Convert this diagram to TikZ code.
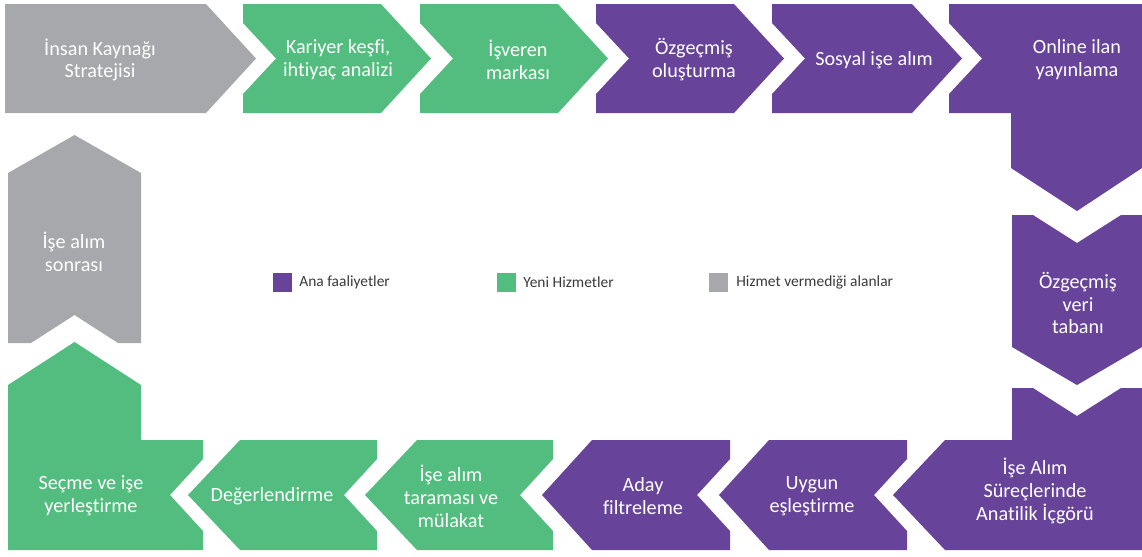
\documentclass[tikz,border=0pt]{standalone}
\usepackage{fontspec}
\setmainfont{Carlito}[Ligatures=NoCommon]
\definecolor{anamor}{RGB}{103,67,153}
\definecolor{yenisil}{RGB}{82,189,126}
\definecolor{hizgri}{RGB}{167,168,172}
\definecolor{yazigri}{RGB}{58,58,58}

\def\ust{4}
\def\alt{113}
\def\orta{58.5}

\begin{document}
\begin{tikzpicture}[x=0.02cm,y=-0.02cm]
				\tikzstyle{etiket}=[text=white,align=center,inner sep=0pt,font=\fontsize{11.5}{13}\selectfont]
				\tikzstyle{lejant}=[text=yazigri,anchor=west,inner sep=0pt,font=\fontsize{8.8}{10}\selectfont]
				\useasboundingbox (0,0) rectangle (1142,556);

			    % Top row
			    \fill[hizgri] (5,\ust) -- (206,\ust) -- (256,\orta) -- (206,\alt) -- (5,\alt) -- cycle;
			    \fill[yenisil] (243,\ust) -- (381,\ust) -- (431,\orta) -- (381,\alt) -- (243,\alt) -- (243,94) -- (276,\orta) -- (243,23) -- cycle;
			    \fill[yenisil] (420,\ust) -- (558,\ust) -- (608,\orta) -- (558,\alt) -- (420,\alt) -- (420,94) -- (453,\orta) -- (420,23) -- cycle;
			    \fill[anamor] (596,\ust) -- (734,\ust) -- (784,\orta) -- (734,\alt) -- (596,\alt) -- (596,94) -- (629,\orta) -- (596,23) -- cycle;
			    \fill[anamor] (772,\ust) -- (912,\ust) -- (962,\orta) -- (912,\alt) -- (772,\alt) -- (772,94) -- (805,\orta) -- (772,23) -- cycle;
			    \fill[anamor] (949,\ust) -- (1142,\ust) -- (1142,168) -- (1077,211) -- (1011,168) -- (1011,\alt) -- (949,\alt) -- (949,94) -- (982,\orta) -- (949,23) -- cycle;

			    % Right column
			    \fill[anamor] (1012,215) -- (1033,215) -- (1077,243) -- (1121,215) -- (1142,215) -- (1142,347) -- (1077,385) -- (1012,347) -- cycle;
			    \fill[anamor] (1012,388) -- (1033,388) -- (1077,416) -- (1121,388) -- (1142,388) -- (1142,550) -- (945,550) -- (893,495) -- (945,440) -- (1012,440) -- cycle;

			    % Bottom row
			    \fill[anamor] (769,440) -- (907,440) -- (907,459) -- (874,495) -- (907,531) -- (907,550) -- (769,550) -- (719,495) -- cycle;
			    \fill[anamor] (592,440) -- (730,440) -- (730,459) -- (697,495) -- (730,531) -- (730,550) -- (592,550) -- (542,495) -- cycle;
			    \fill[yenisil] (417,440) -- (553,440) -- (553,459) -- (520,495) -- (553,531) -- (553,550) -- (417,550) -- (365,495) -- cycle;
			    \fill[yenisil] (240,440) -- (377,440) -- (377,459) -- (344,495) -- (377,531) -- (377,550) -- (240,550) -- (188,495) -- cycle;
			    \fill[yenisil] (8,550) -- (8,385) -- (74.5,342) -- (141,385) -- (141,440) -- (203,440) -- (203,459) -- (170,495) -- (203,531) -- (203,550) -- cycle;

			    % Left column
			    \fill[hizgri] (8,173) -- (74.5,135) -- (141,173) -- (141,343) -- (118,343) -- (74.5,315) -- (31,343) -- (8,343) -- cycle;

			    % Labels
			    \node[etiket] (ik) at (100,60) {İnsan Kaynağı\\Stratejisi};
			    \node[etiket] (kariyer) at (338,60) {Kariyer keşfi,\\ihtiyaç analizi};
			    \node[etiket] (marka) at (518,60) {İşveren\\markası};
			    \node[etiket] (ozgecmis) at (694,60) {Özgeçmiş\\oluşturma};
			    \node[etiket] (sosyal) at (874,60) {Sosyal işe alım};
			    \node[etiket] (ilan) at (1077,60) {Online ilan\\yayınlama};
			    \node[etiket] (veri) at (1078,303) {Özgeçmiş\\veri\\tabanı};
			    \node[etiket] (icgoru) at (1035,491) {İşe Alım\\Süreçlerinde\\Anatilik İçgörü};
			    \node[etiket] (uygun) at (812,496) {Uygun\\eşleştirme};
			    \node[etiket] (aday) at (643,496) {Aday\\filtreleme};
			    \node[etiket] (tarama) at (451,496) {İşe alım\\taraması ve\\mülakat};
			    \node[etiket] (deger) at (272,496) {Değerlendirme};
			    \node[etiket] (secme) at (91,496) {Seçme ve işe\\yerleştirme};
			    \node[etiket] (sonra) at (74,252) {İşe alım\\sonrası};

			    % Legend
			    \fill[anamor] (273,273) rectangle (292,292);
			    \fill[yenisil] (497,273) rectangle (516,292);
			    \fill[hizgri] (709,273) rectangle (728,292);
			    \node[lejant] (anaf) at (299,282) {Ana faaliyetler};
			    \node[lejant] (yenih) at (523,282) {Yeni Hizmetler};
			    \node[lejant] (hizv) at (736,282) {Hizmet vermediği alanlar};

			\end{tikzpicture}
\end{document}
